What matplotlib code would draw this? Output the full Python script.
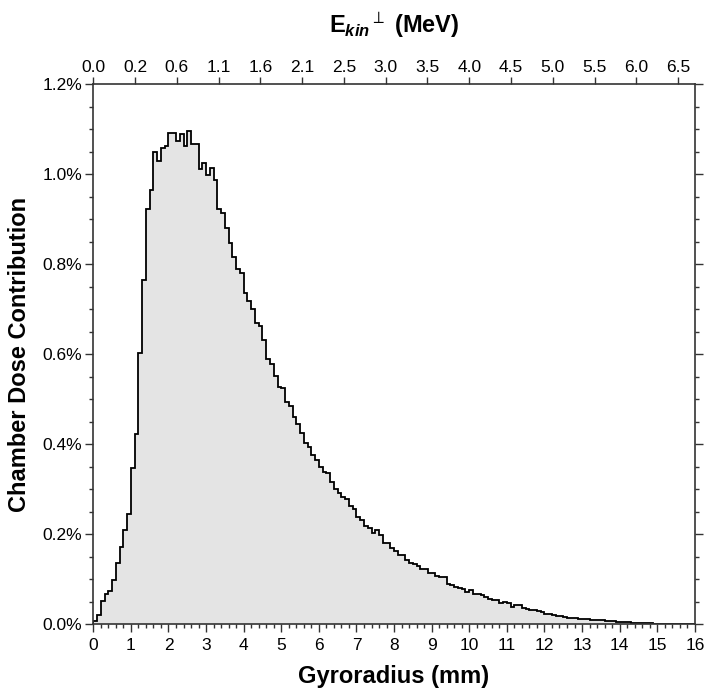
import numpy as np
import matplotlib
matplotlib.use('Agg')
from matplotlib import pyplot as plt
from matplotlib.ticker import MultipleLocator, FuncFormatter

plt.rcParams['font.family'] = ['Liberation Sans', 'DejaVu Sans']
plt.rcParams['mathtext.fontset'] = 'custom'
plt.rcParams['mathtext.rm'] = 'Liberation Sans:bold'
plt.rcParams['mathtext.it'] = 'Liberation Sans:bold:italic'
plt.rcParams['mathtext.bf'] = 'Liberation Sans:bold'

# dose contribution (%) per 0.1 mm gyroradius bin, 0 .. 16 mm
dose = [
    0.007, 0.021, 0.052, 0.067, 0.074, 0.099, 0.136, 0.171, 0.210, 0.246,
    0.348, 0.422, 0.604, 0.766, 0.923, 0.966, 1.049, 1.030, 1.059, 1.063,
    1.091, 1.091, 1.075, 1.089, 1.064, 1.097, 1.068, 1.068, 1.012, 1.026,
    0.998, 1.013, 0.987, 0.922, 0.915, 0.880, 0.848, 0.817, 0.789, 0.780,
    0.736, 0.719, 0.700, 0.669, 0.663, 0.632, 0.590, 0.578, 0.552, 0.528,
    0.525, 0.493, 0.485, 0.461, 0.445, 0.426, 0.404, 0.395, 0.376, 0.365,
    0.350, 0.339, 0.337, 0.317, 0.300, 0.291, 0.282, 0.278, 0.263, 0.256,
    0.239, 0.232, 0.218, 0.213, 0.202, 0.210, 0.198, 0.181, 0.181, 0.169,
    0.164, 0.154, 0.154, 0.144, 0.137, 0.133, 0.130, 0.124, 0.124, 0.115,
    0.113, 0.107, 0.106, 0.106, 0.090, 0.087, 0.084, 0.081, 0.078, 0.072,
    0.076, 0.067, 0.067, 0.065, 0.061, 0.056, 0.054, 0.054, 0.048, 0.050,
    0.048, 0.039, 0.042, 0.042, 0.036, 0.034, 0.032, 0.032, 0.029, 0.027,
    0.024, 0.023, 0.020, 0.019, 0.018, 0.017, 0.015, 0.015, 0.014, 0.0125,
    0.012, 0.011, 0.010, 0.010, 0.0096, 0.009, 0.0073, 0.0073, 0.0067, 0.006,
    0.006, 0.005, 0.0044, 0.0037, 0.0037, 0.003, 0.003, 0.0022, 0.002, 0.0018,
    0.0015, 0.0013, 0.0011, 0.0009, 0.0007, 0.0006, 0.0005, 0.0004, 0.0003, 0.0002,
]
bin_width = 0.1
edges = np.arange(len(dose) + 1) * bin_width

# top axis: perpendicular kinetic energy labels, evenly spaced in gyroradius
ekin_labels = ['0.0', '0.2', '0.6', '1.1', '1.6', '2.1', '2.5', '3.0',
               '3.5', '4.0', '4.5', '5.0', '5.5', '6.0', '6.5']
ekin_step_mm = 10 / 9

fig = plt.figure(figsize=(7.09, 6.94), dpi=100)
ax = fig.add_axes([0.1316, 0.1004, 0.8484, 0.7781])

ax.stairs(dose, edges, fill=True, facecolor='#e4e4e4', edgecolor='none')
ax.stairs(dose, edges, color='black', linewidth=1.3)

ax.set_xlim(0, 16)
ax.set_ylim(0, 1.2)
ax.xaxis.set_major_locator(MultipleLocator(1))
ax.xaxis.set_minor_locator(MultipleLocator(0.2))
ax.yaxis.set_major_locator(MultipleLocator(0.2))
ax.yaxis.set_minor_locator(MultipleLocator(0.05))
ax.yaxis.set_major_formatter(FuncFormatter(lambda v, p: f'{v:.1f}%'))

ax.tick_params(which='both', direction='out', labelsize=12.5, width=1.0,
               color='#333333')
ax.tick_params(which='major', length=5.5)
ax.tick_params(which='minor', length=3)
ax.tick_params(axis='y', which='both', right=True, pad=2.5)
ax.tick_params(axis='x', which='both', top=False, pad=4)

for s in ax.spines.values():
    s.set_linewidth(1.2)
    s.set_color('#333333')

ax.set_xlabel('Gyroradius (mm)', fontsize=17, fontweight='bold', labelpad=9)
ax.set_ylabel('Chamber Dose Contribution', fontsize=17, fontweight='bold', labelpad=8)

ax2 = ax.twiny()
ax2.set_xlim(ax.get_xlim())
ax2.set_xticks(np.arange(len(ekin_labels)) * ekin_step_mm)
ax2.set_xticklabels(ekin_labels)
ax2.tick_params(direction='out', length=5, width=1.0, labelsize=12.5,
                color='#333333', pad=1.5)
for s in ax2.spines.values():
    s.set_visible(False)
ax2.set_xlabel(r'$\mathrm{E}_{kin}{}^{\perp}$ (MeV)', fontsize=17,
               fontweight='bold', labelpad=20)

fig.savefig('out.png', dpi=100)
